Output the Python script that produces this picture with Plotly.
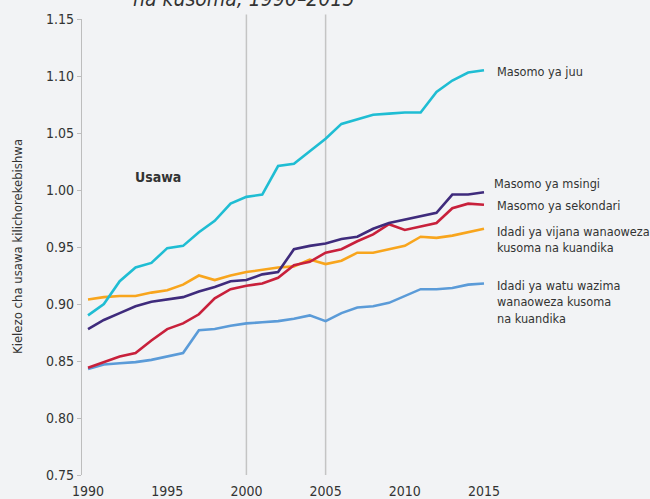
import plotly.graph_objects as go

years = list(range(1990, 2016))

masomo_juu = [0.890, 0.900, 0.920, 0.932, 0.936, 0.949, 0.951, 0.963, 0.973, 0.988,
              0.994, 0.996, 1.021, 1.023, 1.034, 1.045, 1.058, 1.062, 1.066, 1.067,
              1.068, 1.068, 1.086, 1.096, 1.103, 1.105]
masomo_msingi = [0.878, 0.886, 0.892, 0.898, 0.902, 0.904, 0.906, 0.911, 0.915, 0.920,
                 0.921, 0.926, 0.928, 0.948, 0.951, 0.953, 0.957, 0.959, 0.966, 0.971,
                 0.974, 0.977, 0.980, 0.996, 0.996, 0.998]
masomo_sekondari = [0.844, 0.849, 0.854, 0.857, 0.868, 0.878, 0.883, 0.891, 0.905, 0.913,
                    0.916, 0.918, 0.923, 0.934, 0.937, 0.945, 0.948, 0.955, 0.961, 0.970,
                    0.965, 0.968, 0.971, 0.984, 0.988, 0.987]
vijana = [0.904, 0.906, 0.907, 0.907, 0.910, 0.912, 0.917, 0.925, 0.921, 0.925,
          0.928, 0.930, 0.932, 0.933, 0.939, 0.935, 0.938, 0.945, 0.945, 0.948,
          0.951, 0.959, 0.958, 0.960, 0.963, 0.966]
watu_wazima = [0.843, 0.847, 0.848, 0.849, 0.851, 0.854, 0.857, 0.877, 0.878, 0.881,
               0.883, 0.884, 0.885, 0.887, 0.890, 0.885, 0.892, 0.897, 0.898, 0.901,
               0.907, 0.913, 0.913, 0.914, 0.917, 0.918]

series = [
    ("Masomo ya juu", masomo_juu, "#1fbdd3", 1.104),
    ("Masomo ya msingi", masomo_msingi, "#3f2b7c", 1.006),
    ("Masomo ya sekondari", masomo_sekondari, "#c8203b", 0.986),
    ("Idadi ya vijana wanaoweza<br>kusoma na kuandika", vijana, "#f8a51d", 0.957),
    ("Idadi ya watu wazima<br>wanaoweza kusoma<br>na kuandika", watu_wazima, "#5b9bd8", 0.902),
]

x_ticks = [1990, 1995, 2000, 2005, 2010, 2015]
y_ticks = [0.75, 0.80, 0.85, 0.90, 0.95, 1.00, 1.05, 1.10, 1.15]
y_ticklabels = ["0.75", "0.80", "0.85", "0.90", "0.95", "1.00", "1.05", "1.10", "1.15"]
marker_years = [2000, 2005]

FONT = "DejaVu Sans Condensed, Liberation Sans Narrow, sans-serif"
BG = "#f2f3f5"
TXT = "#333333"

fig = go.Figure()
order = [4, 3, 2, 1, 0]
for i in order:
    name, vals, color, _ = series[i]
    fig.add_trace(go.Scatter(x=years, y=vals, mode="lines", name=name,
                             line=dict(color=color, width=2.6), showlegend=False,
                             hoverinfo="skip"))

for yr in marker_years:
    fig.add_shape(type="line", xref="x", yref="paper", x0=yr, x1=yr, y0=0, y1=1.01,
                  line=dict(color="#c4c4c4", width=1.5), layer="below")

for i, (name, vals, color, ylab) in enumerate(series):
    xpos = 2015.5 if i == 1 else 2015.7
    fig.add_annotation(x=xpos, y=ylab, xref="x", yref="y", text=name, showarrow=False,
                       xanchor="left", yanchor="middle", align="left",
                       font=dict(family=FONT, size=12.6, color=TXT))

fig.add_annotation(x=1994.4, y=1.0114, xref="x", yref="y", text="<b>Usawa</b>",
                   showarrow=False, xanchor="center", yanchor="middle",
                   font=dict(family=FONT, size=14, color=TXT))

fig.add_annotation(x=0.285, y=1.0135, xref="paper", yref="paper",
                   text="<i>na kusoma, 1990–2015</i>", showarrow=False,
                   xanchor="center", yanchor="bottom",
                   font=dict(family=FONT, size=21, color=TXT))

fig.add_annotation(x=-0.1144, y=0.5, xref="paper", yref="paper",
                   text="Kielezo cha usawa kilichorekebishwa", showarrow=False,
                   textangle=-90, xanchor="center", yanchor="middle",
                   font=dict(family=FONT, size=13, color=TXT))

fig.update_layout(
    width=650, height=499,
    margin=dict(l=82, r=0, t=19, b=24, autoexpand=False),
    paper_bgcolor=BG, plot_bgcolor=BG,
    font=dict(family=FONT, size=14, color=TXT),
    xaxis=dict(range=[1989.62, 2025.48], tickvals=x_ticks, showgrid=False,
               zeroline=False, showline=False, ticks="outside", ticklen=3,
               tickcolor="rgba(0,0,0,0)", tickfont=dict(size=14, color=TXT),
               automargin=False),
    yaxis=dict(range=[0.75, 1.15], tickvals=y_ticks, ticktext=y_ticklabels,
               showgrid=False, zeroline=False, showline=True, linecolor="#bdbdbd",
               linewidth=1.2, ticks="outside", ticklen=4, tickcolor="#bdbdbd",
               tickfont=dict(size=14, color=TXT), automargin=False),
)

fig.write_html(
    "out.html",
    config={"displayModeBar": False},
    post_script="document.body.style.margin='0';document.body.style.background='#f2f3f5';",
)
